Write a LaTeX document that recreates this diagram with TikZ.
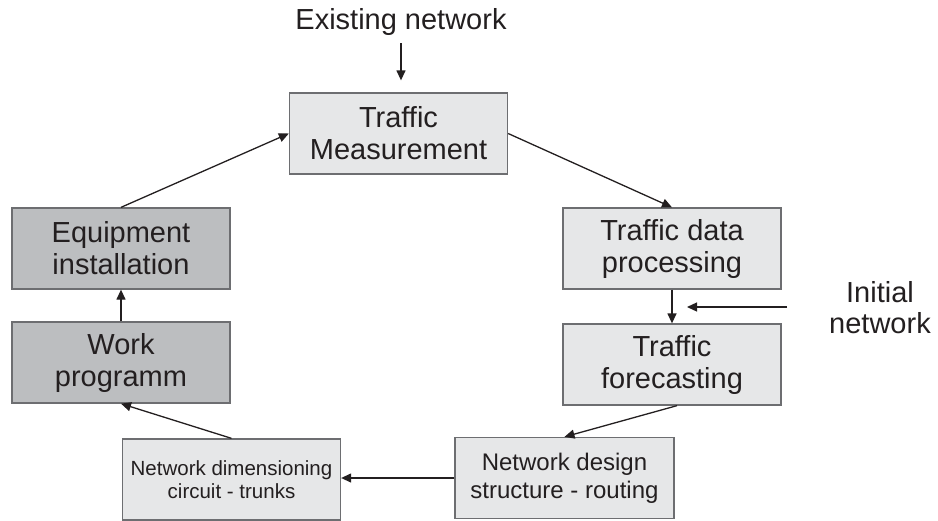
\documentclass[tikz,border=0pt]{standalone}
\usepackage{fontspec}
\setmainfont{Liberation Sans}
\usetikzlibrary{arrows.meta}
\definecolor{boxlight}{HTML}{E6E7E8}
\definecolor{boxdark}{HTML}{BCBEC0}
\definecolor{edgegray}{HTML}{6D6E71}
\definecolor{ink}{HTML}{231F20}

\begin{document}
\begin{tikzpicture}[x=1pt,y=-1pt,
  stage/.style={draw=edgegray, line width=1.3pt, minimum width=218pt,
    minimum height=81pt, inner sep=0pt, align=center, text=ink,
    font=\fontsize{29}{32}\selectfont},
  light/.style={stage, fill=boxlight},
  dark/.style={stage, fill=boxdark},
  label/.style={inner sep=0pt, text=ink, font=\fontsize{29}{31}\selectfont},
  flow/.style={draw=ink, line width=1.3pt, -{Triangle[length=10pt,width=9pt]}},
]
\useasboundingbox (0,0) rectangle (938,520);

% planning cycle
\node[light] (tm)  at (398.5,133.5) {Traffic\\Measurement};
\node[light] (tdp) at (672,248.5)   {Traffic data\\processing};
\node[light] (tf)  at (672,364.5)   {Traffic\\forecasting};
\node[light, minimum width=219pt, font=\fontsize{24}{28}\selectfont] (nds) at (564.5,478) {Network design\\structure - routing};
\node[light, font=\fontsize{20.5}{23}\selectfont] (ndm) at (231.5,479.5) {Network dimensioning\\circuit - trunks};
\node[dark]  (wp)  at (121,362.5)   {Work\\programm};
\node[dark]  (ei)  at (121,248.5)   {Equipment\\installation};

% external inputs
\node[label, anchor=base] (en) at (401,29) {Existing network};
\node[label, anchor=north, align=center] (init) at (880,281) {Initial\\network};
\coordinate (initsrc) at (787,307);
\coordinate (inittip) at (687,307);

% connectors
\draw[flow, shorten <=8pt, shorten >=12pt] (en.south) -- (en.south |- tm.north);
\draw[flow] (tm.east) -- (tdp.north);
\draw[flow] (tdp.south) -- (tf.north);
\draw[flow] (initsrc) -- (inittip);
\draw[flow] ([xshift=5pt]tf.south) -- (nds.north);
\draw[flow] (nds.west) -- (nds.west -| ndm.east);
\draw[flow] (ndm.north) -- (wp.south);
\draw[flow] (wp.north) -- (ei.south);
\draw[flow] (ei.north) -- (tm.west);
\end{tikzpicture}
\end{document}
